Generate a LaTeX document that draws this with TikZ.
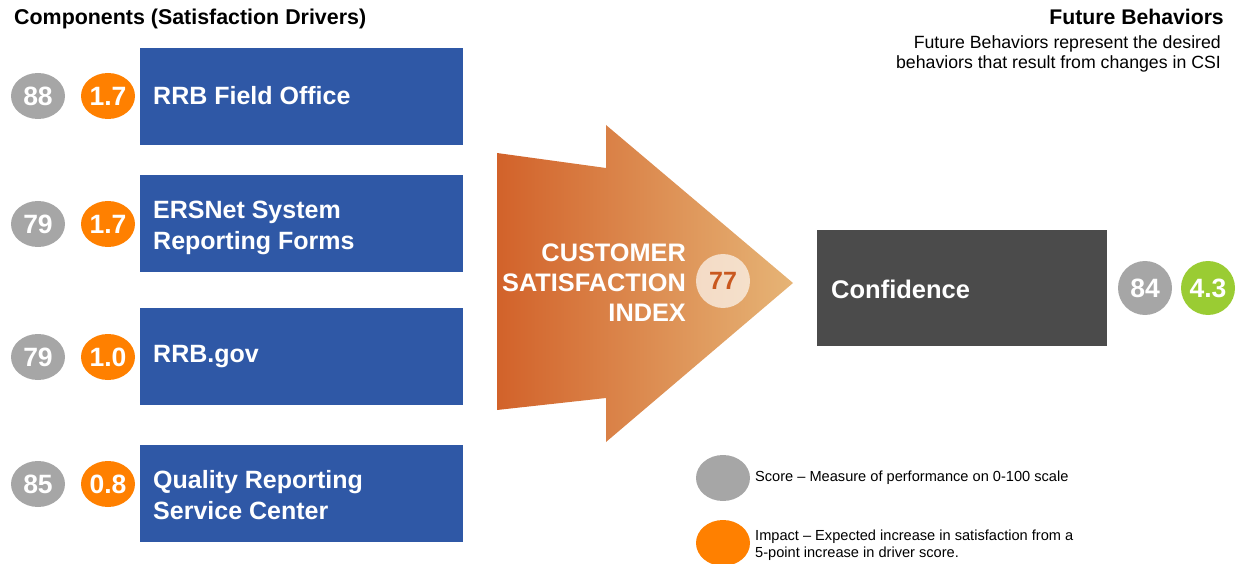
\documentclass[tikz,border=0pt]{standalone}
\usepackage{fontspec}
\setmainfont{Liberation Sans}
\usetikzlibrary{shapes.geometric}
\definecolor{driverblue}{HTML}{2F58A6}
\definecolor{scoregray}{HTML}{A6A6A6}
\definecolor{impactorange}{HTML}{FF8000}
\definecolor{darkbox}{HTML}{4B4B4B}
\definecolor{limegreen}{HTML}{9ACC33}
\definecolor{arrowleft}{HTML}{D2622A}
\definecolor{arrowright}{HTML}{E6B476}
\definecolor{csitext}{HTML}{C9581F}
\newcommand{\fs}[2]{\fontsize{#1}{#2}\selectfont}
\begin{document}
\begin{tikzpicture}[x=1pt,y=-1pt,
  drivebox/.style={fill=driverblue, draw=none, minimum width=323pt, minimum height=97pt, anchor=north west},
  boxlabel/.style={text=white, font=\fs{25}{31}\bfseries, align=left, anchor=west, inner sep=0pt},
  badge/.style={ellipse, draw=none, minimum width=54pt, minimum height=46pt, inner sep=0pt, text=white, font=\fs{26.5}{30}\bfseries},
  roundbadge/.style={circle, draw=none, minimum size=54pt, inner sep=0pt, text=white, font=\fs{26.5}{30}\bfseries},
  legendtext/.style={font=\fs{14.6}{17.5}, anchor=west, align=left, inner sep=0pt}
]
\useasboundingbox (0,0) rectangle (1243,564);

% headings
\node[anchor=base west, inner sep=0pt, font=\fs{21.4}{24}\bfseries] (comphead) at (14,25) {Components (Satisfaction Drivers)};
\node[anchor=base east, inner sep=0pt, font=\fs{21.2}{24}\bfseries] (futhead) at (1224,25) {Future Behaviors};
\node[anchor=east, inner sep=0pt, font=\fs{17.7}{19.5}, align=right] (futdesc) at (1221,54)
  {Future Behaviors represent the desired\\behaviors that result from changes in CSI};

% satisfaction drivers
\node[drivebox] (b1) at (140,48) {};
\node[drivebox] (b2) at (140,175) {};
\node[drivebox] (b3) at (140,308) {};
\node[drivebox] (b4) at (140,445) {};
\node[boxlabel] (t1) at (153,96) {RRB Field Office};
\node[boxlabel] (t2) at (153,228) {ERSNet System\\Reporting Forms};
\node[boxlabel] (t3) at (153,357) {RRB.gov};
\node[boxlabel] (t4) at (153,495) {Quality Reporting\\Service Center};

\node[badge, fill=scoregray] (s1) at (38,96) {88};
\node[badge, fill=impactorange] (i1) at (108,96) {1.7};
\node[badge, fill=scoregray] (s2) at (38,224) {79};
\node[badge, fill=impactorange] (i2) at (108,224) {1.7};
\node[badge, fill=scoregray] (s3) at (38,357) {79};
\node[badge, fill=impactorange] (i3) at (108,357) {1.0};
\node[badge, fill=scoregray] (s4) at (38,484) {85};
\node[badge, fill=impactorange] (i4) at (108,484) {0.8};

% central arrow
\shade[left color=arrowleft, right color=arrowright, shading angle=90]
  (497,153) -- (606,168) -- (606,125) -- (793,283) -- (606,442) -- (606,398) -- (497,410) -- cycle;
\node[anchor=east, inner sep=0pt, align=right, text=white, font=\fs{25.3}{30}\bfseries] (csi) at (686,283)
  {CUSTOMER\\SATISFACTION\\INDEX};
\node[circle, minimum size=54pt, inner sep=0pt, fill=white, fill opacity=0.65, text opacity=1,
  text=csitext, font=\fs{25}{28}\bfseries] (csiscore) at (723,281) {77};

% future behavior
\node[fill=darkbox, minimum width=290pt, minimum height=116pt, anchor=north west] (conf) at (817,230) {};
\node[anchor=west, inner sep=0pt, text=white, font=\fs{25.5}{28}\bfseries] (conftext) at (831,289) {Confidence};
\node[roundbadge, fill=scoregray] (cs) at (1145,288) {84};
\node[roundbadge, fill=limegreen] (ci) at (1208,288) {4.3};

% legend
\node[badge, fill=scoregray] (lg1) at (723,478) {};
\node[badge, fill=impactorange] (lg2) at (723,543) {};
\node[legendtext] (lt1) at (755,478) {Score -- Measure of performance on 0-100 scale};
\node[legendtext] (lt2) at (755,545) {Impact -- Expected increase in satisfaction from a\\5-point increase in driver score.};
\end{tikzpicture}
\end{document}
